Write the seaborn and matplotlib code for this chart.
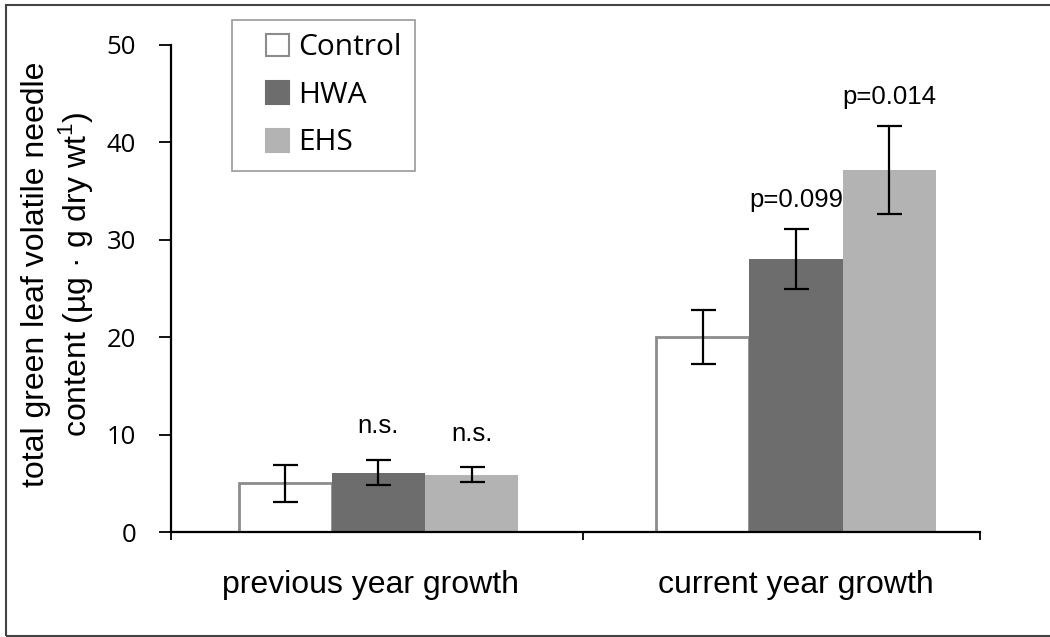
import matplotlib
matplotlib.use("Agg")
import matplotlib.pyplot as plt
from matplotlib.patches import Rectangle
from matplotlib.legend_handler import HandlerBase
import seaborn as sns
import pandas as pd

# Needle volatile content by growth year and treatment (mean ± SE)
growth = ["previous year growth", "current year growth"]
treatments = ["Control", "HWA", "EHS"]
control_mean = [5.0, 20.0]
hwa_mean = [6.1, 28.0]
ehs_mean = [5.9, 37.2]
control_se = [1.9, 2.8]
hwa_se = [1.25, 3.1]
ehs_se = [0.8, 4.5]
annotations = {"HWA": ["n.s.", "p=0.099"], "EHS": ["n.s.", "p=0.014"]}
y_ticks = [0, 10, 20, 30, 40, 50]

# gap between error bar cap and annotation baseline (data units)
label_gap = {"HWA": [2.85, 2.3], "EHS": [2.65, 2.2]}

means = {"Control": control_mean, "HWA": hwa_mean, "EHS": ehs_mean}
errs = {"Control": control_se, "HWA": hwa_se, "EHS": ehs_se}
rows = []
for t in treatments:
    for g, m in zip(growth, means[t]):
        rows.append({"growth": g, "treatment": t, "value": m})
df = pd.DataFrame(rows)

sns.set_theme(style="white")
plt.rcParams["font.family"] = ["Liberation Sans", "DejaVu Sans"]
plt.rcParams.update({"text.color": "black", "axes.labelcolor": "black",
                     "xtick.color": "black", "ytick.color": "black"})

fig = plt.figure(figsize=(10.5, 6.37), dpi=100)
ax = fig.add_axes([171 / 1050, 1 - 532 / 637, 809 / 1050, 487 / 637])

palette = {"Control": "#ffffff", "HWA": "#6d6d6d", "EHS": "#b3b3b3"}
sns.barplot(data=df, x="growth", y="value", hue="treatment", order=growth,
            hue_order=treatments, palette=palette, errorbar=None,
            width=0.67, gap=0, saturation=1, ax=ax, legend=False)

# style bars: outlined Control, flat fill for the others
for t, cont in zip(treatments, ax.containers):
    for bar in cont:
        if t == "Control":
            bar.set_edgecolor("#8c8c8c")
            bar.set_linewidth(2)
        else:
            bar.set_edgecolor("none")
            bar.set_linewidth(0)
    xs = [b.get_x() + b.get_width() / 2 for b in cont]
    ax.errorbar(xs, means[t], yerr=errs[t], fmt="none", ecolor="black",
                elinewidth=1.6, capsize=9, capthick=1.6, zorder=5)
    if t in annotations:
        for x, m, e, lab, gap in zip(xs, means[t], errs[t],
                                     annotations[t], label_gap[t]):
            ax.text(x, m + e + gap, lab, ha="center", va="baseline",
                    fontsize=18.5, color="black")

ax.set_xlim(-0.497, 1.441)
ax.set_ylim(0, 50)

# axes: only left and bottom spines
for s in ["top", "right"]:
    ax.spines[s].set_visible(False)
for s in ["left", "bottom"]:
    ax.spines[s].set_color("black")
    ax.spines[s].set_linewidth(1.6)

ax.set_yticks(y_ticks)
ax.set_yticklabels([str(v) for v in y_ticks], fontfamily="Open Sans",
                   fontsize=18.5)
ax.tick_params(axis="y", which="major", direction="out", length=9,
               width=1.3, pad=16, left=True)

# boundary ticks on x, category names as minor labels
ax.set_xticks([-0.497, 0.49, 1.441])
ax.set_xticklabels([])
ax.set_xticks([-0.02, 1], minor=True)
ax.set_xticklabels(growth, minor=True, fontsize=23)
ax.tick_params(axis="x", which="major", direction="out", length=6,
               width=1.3, bottom=True)
ax.tick_params(axis="x", which="minor", length=0, pad=27, bottom=True)

ax.set_xlabel("")
ax.set_ylabel("total green leaf volatile needle\ncontent (µg · g dry wt$^{\\mathregular{1}}$)",
              fontsize=23, linespacing=1.15)
ax.yaxis.set_label_coords(-0.094, 0.53)


class SquareHandler(HandlerBase):
    """Square swatch pushed to the right end of the handle box."""

    def create_artists(self, legend, orig_handle, xdescent, ydescent,
                       width, height, fontsize, trans):
        side = height
        r = Rectangle((width - side - xdescent, -ydescent), side, side,
                      facecolor=orig_handle.get_facecolor(),
                      edgecolor=orig_handle.get_edgecolor(),
                      linewidth=orig_handle.get_linewidth(), transform=trans)
        return [r]


handles = [Rectangle((0, 0), 1, 1, facecolor=palette[t],
                     edgecolor="#8c8c8c" if t == "Control" else palette[t],
                     linewidth=1.5) for t in treatments]
leg = fig.legend(handles, treatments, loc="upper left",
                 bbox_to_anchor=(232 / 1050, 1 - 20 / 637),
                 prop={"family": "Open Sans", "size": 21.5},
                 handler_map={Rectangle: SquareHandler()},
                 frameon=True, fancybox=False, handlelength=1.47,
                 handleheight=0.8, handletextpad=0.3, labelspacing=0.62,
                 borderpad=0.45, borderaxespad=0)
leg.get_frame().set_edgecolor("#808080")
leg.get_frame().set_linewidth(1.2)

# outer frame around the figure
fig.patches.append(Rectangle((6 / 1050, 1 / 637), 1.2, 631 / 637,
                             transform=fig.transFigure, fill=False,
                             edgecolor="#444444", linewidth=1.5))

fig.savefig("out.png", dpi=100)
